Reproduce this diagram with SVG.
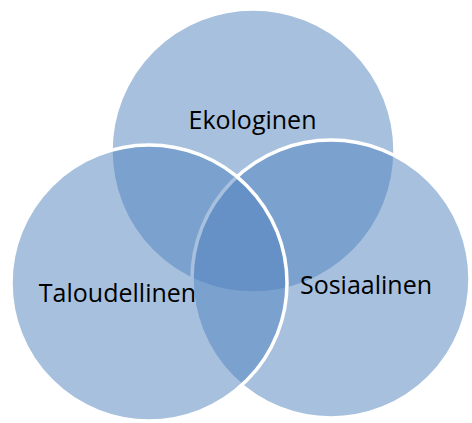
<svg xmlns="http://www.w3.org/2000/svg" width="472" height="423" viewBox="0 0 472 423">
  <style>
    .set { fill: #4F81BD; fill-opacity: 0.5; stroke: #FFFFFF; stroke-width: 3.5; }
    .label { font-family: "Open Sans", "Noto Sans", sans-serif; font-size: 25px; fill: #000000; text-anchor: middle; }
  </style>
  <rect width="472" height="423" fill="#FFFFFF"/>
  <g id="ekologinen">
    <circle class="set" cx="253" cy="151" r="142"/>
    <text class="label" x="252.5" y="129">Ekologinen</text>
  </g>
  <g id="sosiaalinen">
    <circle class="set" cx="331" cy="279" r="139"/>
    <text class="label" x="366" y="294">Sosiaalinen</text>
  </g>
  <g id="taloudellinen">
    <circle class="set" cx="149" cy="283" r="138"/>
    <text class="label" x="117.5" y="302">Taloudellinen</text>
  </g>
  <g id="connectors"/>
</svg>
